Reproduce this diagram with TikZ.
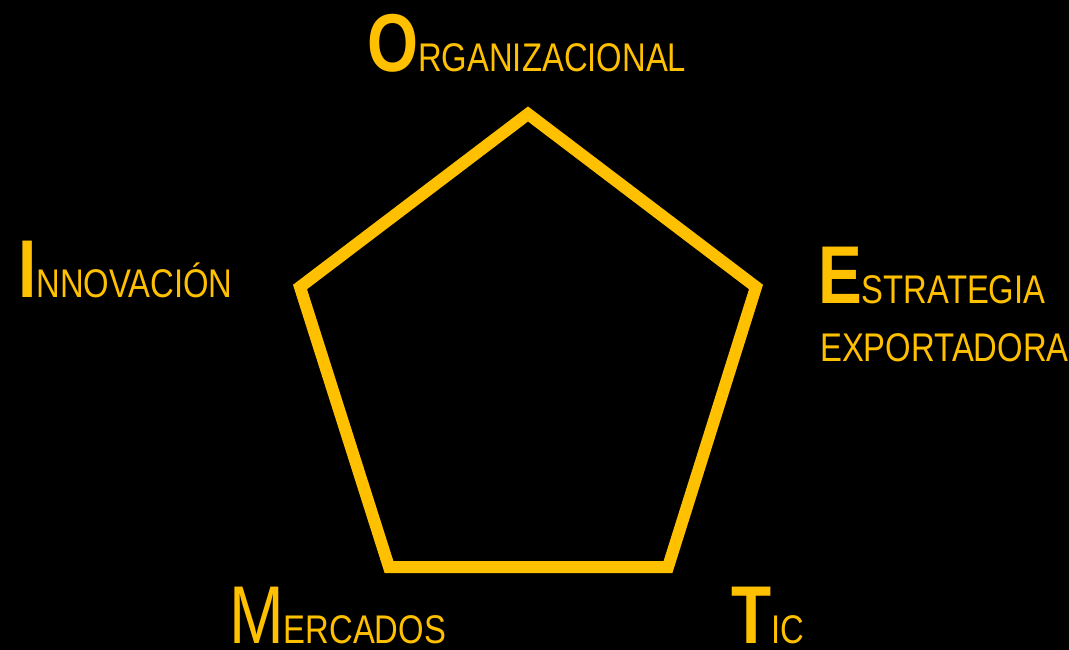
\documentclass[tikz,border=0pt]{standalone}
\usepackage{fontspec}
\newfontfamily\narrowfont[FakeStretch=0.8]{Liberation Sans}
\newfontfamily\narrowfontb[FakeStretch=0.82]{Liberation Sans}
\definecolor{gold}{HTML}{FFC000}
\newcommand{\initialb}[1]{{\fontsize{82}{90}\selectfont\bfseries #1}}
\newcommand{\initialr}[1]{{\fontsize{82}{90}\selectfont #1}}
\newcommand{\restcap}[1]{{\narrowfontb\fontsize{40}{48}\selectfont #1}}
\begin{document}
\begin{tikzpicture}[x=1pt,y=-1pt,
  lbl/.style={anchor=base west,inner sep=0pt,text=gold,font=\narrowfont},
  edge/.style={draw=gold,line width=12pt,line join=miter}]
\fill[black] (0,0) rectangle (1069,650);
\useasboundingbox (0,0) rectangle (1069,650);
\coordinate (vO) at (528,114);
\coordinate (vE) at (756,287);
\coordinate (vT) at (668,567);
\coordinate (vM) at (389,567);
\coordinate (vI) at (300,287);
\draw[edge] (vO) -- (vE) -- (vT) -- (vM) -- (vI) -- cycle;
\node[lbl] (org) at (367,72) {\initialb{O}\restcap{RGANIZACIONAL}};
\node[lbl] (inn) at (18,297) {\initialb{I}\restcap{NNOVACIÓN}};
\node[lbl] (est) at (818,303) {\initialb{E}\restcap{STRATEGIA}};
\node[lbl] (exp) at (820,361) {\restcap{EXPORTADORA}};
\node[lbl] (mer) at (229,643) {\initialr{M}\restcap{ERCADOS}};
\node[lbl] (tic) at (731,643) {\initialb{T}\restcap{IC}};
\end{tikzpicture}
\end{document}
